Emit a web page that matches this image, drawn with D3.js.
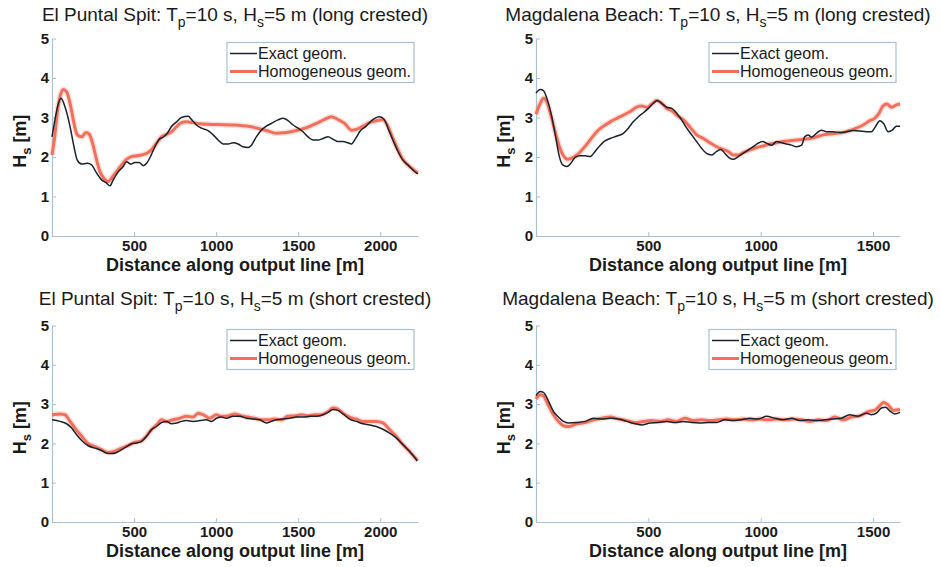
<!DOCTYPE html>
<html>
<head>
<meta charset="utf-8">
<script src="https://cdn.jsdelivr.net/npm/d3@7"></script>
<style>
  body { margin: 0; background: #fff; }
  svg { font-family: "Liberation Sans", Arial, sans-serif; }
  .axis path, .axis line { stroke: #a9c1d1; }
  .axis text { font-size: 15px; font-weight: bold; fill: #1a1a1a; }
</style>
</head>
<body>
<div id="wrapper"></div>
<script>
// values: [distance along output line (m), Hs (m)]
const puntalLongExact = [[0,2.51],[18,2.94],[39,3.36],[55,3.49],[79,3.27],[110,2.77],[134,2.26],[154,1.92],[181,1.82],[215,1.84],[241,1.80],[272,1.59],[302,1.42],[329,1.35],[353,1.27],[373,1.42],[404,1.63],[434,1.76],[454,1.88],[479,1.82],[505,1.86],[531,1.86],[556,1.78],[576,1.84],[600,2.01],[627,2.26],[653,2.45],[677,2.50],[702,2.60],[728,2.77],[759,2.89],[789,3.00],[830,3.03],[850,2.95],[880,2.81],[911,2.73],[951,2.67],[982,2.56],[1012,2.43],[1043,2.33],[1073,2.33],[1103,2.36],[1134,2.33],[1164,2.26],[1195,2.24],[1215,2.30],[1245,2.51],[1276,2.68],[1306,2.78],[1337,2.85],[1377,2.94],[1408,2.98],[1438,2.92],[1469,2.81],[1499,2.73],[1529,2.64],[1560,2.51],[1590,2.43],[1621,2.43],[1651,2.47],[1682,2.51],[1712,2.45],[1742,2.39],[1773,2.39],[1803,2.36],[1824,2.33],[1850,2.47],[1878,2.66],[1911,2.77],[1939,2.89],[1966,2.98],[1996,3.02],[2026,2.94],[2047,2.73],[2077,2.43],[2108,2.14],[2138,1.92],[2168,1.80],[2199,1.67],[2229,1.57]]
const puntalLongHomog = [[0,2.05],[14,2.43],[32,3.11],[49,3.53],[69,3.71],[89,3.65],[110,3.36],[134,2.85],[154,2.56],[181,2.51],[207,2.62],[227,2.58],[247,2.35],[272,1.92],[292,1.63],[316,1.46],[343,1.38],[369,1.50],[393,1.63],[424,1.80],[454,1.94],[485,2.01],[515,2.03],[546,2.05],[576,2.09],[606,2.18],[637,2.35],[667,2.51],[698,2.57],[728,2.64],[759,2.77],[789,2.87],[819,2.89],[860,2.87],[901,2.84],[1002,2.82],[1103,2.81],[1205,2.77],[1306,2.67],[1367,2.60],[1428,2.62],[1489,2.67],[1550,2.74],[1611,2.85],[1661,2.95],[1702,3.02],[1742,2.95],[1783,2.85],[1824,2.68],[1854,2.70],[1895,2.78],[1935,2.87],[1976,2.92],[2016,2.94],[2043,2.81],[2077,2.47],[2108,2.18],[2138,1.94],[2168,1.80],[2199,1.69],[2229,1.59]]

const magdaLongExact = [[0,3.62],[19,3.71],[33,3.68],[51,3.44],[70,3.02],[90,2.43],[104,2.01],[119,1.80],[137,1.76],[155,1.84],[174,1.99],[197,2.03],[219,2.03],[241,2.01],[263,2.14],[286,2.30],[307,2.41],[330,2.47],[360,2.53],[389,2.60],[411,2.73],[433,2.89],[456,3.02],[478,3.12],[500,3.23],[522,3.36],[540,3.43],[559,3.36],[582,3.26],[604,3.23],[626,3.11],[648,2.94],[671,2.73],[693,2.56],[715,2.39],[737,2.22],[759,2.09],[782,2.05],[804,2.14],[822,2.19],[841,2.09],[860,1.98],[878,1.94],[900,2.01],[922,2.09],[945,2.18],[967,2.26],[989,2.35],[1008,2.39],[1026,2.35],[1049,2.30],[1071,2.39],[1093,2.36],[1115,2.33],[1137,2.30],[1160,2.26],[1182,2.30],[1196,2.51],[1211,2.56],[1226,2.50],[1248,2.60],[1270,2.68],[1293,2.64],[1322,2.64],[1352,2.62],[1381,2.64],[1411,2.67],[1441,2.66],[1470,2.64],[1493,2.64],[1512,2.78],[1530,2.92],[1548,2.84],[1567,2.64],[1586,2.68],[1604,2.78],[1620,2.78]]
const magdaLongHomog = [[0,3.08],[19,3.36],[33,3.49],[48,3.40],[66,3.06],[85,2.64],[104,2.26],[122,2.03],[140,1.94],[159,1.97],[182,2.05],[211,2.22],[241,2.43],[270,2.64],[300,2.78],[330,2.89],[360,2.98],[389,3.06],[419,3.15],[448,3.26],[470,3.29],[493,3.26],[515,3.34],[537,3.43],[559,3.36],[582,3.23],[604,3.17],[626,3.06],[656,2.94],[686,2.75],[715,2.56],[745,2.47],[774,2.36],[804,2.26],[833,2.19],[856,2.14],[878,2.05],[900,2.05],[922,2.11],[952,2.18],[982,2.24],[1011,2.28],[1041,2.33],[1071,2.36],[1100,2.39],[1130,2.41],[1160,2.43],[1189,2.45],[1219,2.47],[1248,2.51],[1278,2.56],[1308,2.58],[1337,2.60],[1367,2.62],[1396,2.67],[1426,2.73],[1456,2.81],[1485,2.92],[1507,2.98],[1527,3.11],[1544,3.29],[1562,3.34],[1582,3.26],[1604,3.32],[1620,3.34]]

const puntalShortExact = [[0,2.60],[49,2.56],[89,2.50],[120,2.39],[150,2.22],[187,2.05],[221,1.94],[262,1.88],[302,1.82],[333,1.75],[363,1.74],[394,1.77],[424,1.84],[454,1.92],[485,1.99],[515,2.01],[546,2.05],[576,2.18],[606,2.35],[637,2.43],[667,2.53],[698,2.56],[728,2.50],[759,2.52],[789,2.56],[819,2.58],[860,2.56],[901,2.58],[941,2.60],[972,2.56],[1002,2.64],[1032,2.67],[1063,2.64],[1103,2.69],[1144,2.69],[1185,2.64],[1225,2.62],[1266,2.60],[1306,2.52],[1337,2.56],[1367,2.60],[1408,2.62],[1448,2.64],[1489,2.67],[1529,2.67],[1570,2.69],[1611,2.69],[1651,2.73],[1682,2.79],[1712,2.86],[1742,2.84],[1773,2.75],[1813,2.62],[1854,2.56],[1895,2.50],[1935,2.47],[1976,2.43],[2016,2.36],[2057,2.26],[2097,2.14],[2138,1.97],[2178,1.80],[2225,1.56]]
const puntalShortHomog = [[0,2.73],[49,2.75],[79,2.73],[110,2.56],[140,2.39],[181,2.18],[221,1.99],[262,1.92],[302,1.84],[343,1.77],[383,1.80],[424,1.88],[465,1.95],[505,2.03],[536,2.05],[576,2.19],[606,2.35],[637,2.47],[667,2.60],[698,2.56],[738,2.60],[779,2.64],[819,2.69],[860,2.67],[890,2.77],[921,2.73],[961,2.64],[1002,2.73],[1032,2.69],[1073,2.70],[1114,2.75],[1154,2.70],[1195,2.67],[1235,2.64],[1276,2.60],[1316,2.60],[1357,2.62],[1398,2.60],[1438,2.69],[1479,2.70],[1519,2.73],[1560,2.70],[1600,2.73],[1641,2.73],[1682,2.81],[1712,2.90],[1742,2.87],[1773,2.77],[1813,2.67],[1854,2.62],[1895,2.56],[1935,2.56],[1976,2.56],[2016,2.52],[2057,2.35],[2097,2.18],[2138,1.97],[2178,1.80],[2228,1.56]]

const magdaShortExact = [[0,3.22],[19,3.32],[33,3.30],[56,3.07],[78,2.81],[100,2.67],[122,2.56],[144,2.52],[182,2.53],[219,2.56],[256,2.64],[293,2.62],[330,2.64],[367,2.62],[404,2.56],[441,2.50],[470,2.47],[508,2.52],[544,2.53],[582,2.56],[619,2.53],[656,2.56],[693,2.53],[730,2.52],[767,2.53],[804,2.53],[841,2.60],[878,2.58],[915,2.60],[952,2.64],[989,2.62],[1026,2.69],[1063,2.64],[1100,2.60],[1137,2.64],[1174,2.58],[1211,2.60],[1248,2.58],[1285,2.60],[1322,2.62],[1359,2.64],[1396,2.73],[1433,2.69],[1470,2.77],[1493,2.73],[1515,2.77],[1537,2.90],[1556,2.92],[1574,2.83],[1596,2.75],[1620,2.79]]
const magdaShortHomog = [[0,3.13],[19,3.24],[33,3.21],[56,2.96],[78,2.73],[100,2.56],[122,2.45],[144,2.43],[182,2.50],[219,2.53],[256,2.60],[293,2.64],[330,2.67],[367,2.62],[404,2.58],[441,2.53],[478,2.56],[515,2.58],[552,2.56],[589,2.60],[626,2.56],[663,2.64],[700,2.58],[737,2.60],[774,2.58],[811,2.60],[848,2.62],[885,2.60],[922,2.62],[959,2.60],[996,2.62],[1033,2.60],[1071,2.62],[1108,2.60],[1145,2.62],[1182,2.60],[1219,2.56],[1256,2.60],[1293,2.58],[1330,2.67],[1367,2.60],[1404,2.67],[1441,2.70],[1478,2.81],[1507,2.84],[1530,2.96],[1547,3.04],[1567,2.98],[1590,2.84],[1620,2.86]]

const puntalTicks = [500, 1000, 1500, 2000]
const magdaTicks = [500, 1000, 1500]
const hsTicks = [0, 1, 2, 3, 4, 5]
const legendLabels = ["Exact geom.", "Homogeneous geom."]

const panels = [
    {site: "El Puntal Spit", kind: "long crested", exact: puntalLongExact, homog: puntalLongHomog, xMax: 2230, ticks: puntalTicks, left: 52, right: 418, top: 38.5, bottom: 236, titleY: 21},
    {site: "Magdalena Beach", kind: "long crested", exact: magdaLongExact, homog: magdaLongHomog, xMax: 1620, ticks: magdaTicks, left: 536, right: 900, top: 38.5, bottom: 236, titleY: 21},
    {site: "El Puntal Spit", kind: "short crested", exact: puntalShortExact, homog: puntalShortHomog, xMax: 2230, ticks: puntalTicks, left: 52, right: 418, top: 325.5, bottom: 522, titleY: 305},
    {site: "Magdalena Beach", kind: "short crested", exact: magdaShortExact, homog: magdaShortHomog, xMax: 1620, ticks: magdaTicks, left: 536, right: 900, top: 325.5, bottom: 522, titleY: 305},
]

const exactColor = "#18232d"
const homogColor = "#f26f5b"

const svg = d3.select("#wrapper")
    .append("svg")
    .attr("width", 940)
    .attr("height", 567)

panels.forEach(p => {
    const xScale = d3.scaleLinear().domain([0, p.xMax]).range([p.left, p.right])
    const yScale = d3.scaleLinear().domain([0, 5]).range([p.bottom, p.top])

    const g = svg.append("g")

    // title with subscripts
    const title = g.append("text")
        .attr("x", (p.left + p.right) / 2)
        .attr("y", p.titleY)
        .attr("text-anchor", "middle")
        .style("font-size", "19px")
        .style("fill", "#1a1a1a")
    title.append("tspan").text(p.site + ": T")
    title.append("tspan").attr("dy", 6).style("font-size", "14px").text("p")
    title.append("tspan").attr("dy", -6).text("=10 s, H")
    title.append("tspan").attr("dy", 6).style("font-size", "14px").text("s")
    title.append("tspan").attr("dy", -6).text("=5 m (" + p.kind + ")")

    // axes, ticks pointing inward like matlab
    g.append("g")
        .attr("class", "axis")
        .attr("transform", `translate(0,${p.bottom})`)
        .call(d3.axisBottom(xScale).tickValues(p.ticks).tickFormat(d3.format("d"))
            .tickSizeInner(-4).tickSizeOuter(0).tickPadding(4))
    g.append("g")
        .attr("class", "axis")
        .attr("transform", `translate(${p.left},0)`)
        .call(d3.axisLeft(yScale).tickValues(hsTicks).tickFormat(d3.format("d"))
            .tickSizeInner(-4).tickSizeOuter(0).tickPadding(3))
    g.selectAll(".axis .domain").attr("stroke-width", 1.2)

    g.append("text")
        .attr("x", (p.left + p.right) / 2)
        .attr("y", p.bottom + 35)
        .attr("text-anchor", "middle")
        .style("font-size", "18px")
        .style("font-weight", "bold")
        .style("fill", "#1a1a1a")
        .text("Distance along output line [m]")

    const yLabel = g.append("text")
        .attr("transform", `translate(${p.left - 26},${(p.top + p.bottom) / 2 + 4}) rotate(-90)`)
        .attr("text-anchor", "middle")
        .style("font-size", "18px")
        .style("font-weight", "bold")
        .style("fill", "#1a1a1a")
    yLabel.append("tspan").text("H")
    yLabel.append("tspan").attr("dy", 5).style("font-size", "13px").text("s")
    yLabel.append("tspan").attr("dy", -5).text(" [m]")

    // lines
    const lineGenerator = d3.line()
        .x(d => xScale(d[0]))
        .y(d => yScale(d[1]))
        .curve(d3.curveMonotoneX)

    g.append("path")
        .attr("d", lineGenerator(p.homog))
        .attr("fill", "none")
        .attr("stroke", homogColor)
        .attr("stroke-opacity", 0.2)
        .attr("stroke-width", 6)
    g.append("path")
        .attr("d", lineGenerator(p.homog))
        .attr("fill", "none")
        .attr("stroke", homogColor)
        .attr("stroke-width", 3)
    g.append("path")
        .attr("d", lineGenerator(p.exact))
        .attr("fill", "none")
        .attr("stroke", exactColor)
        .attr("stroke-width", 1.5)

    // legend
    const boxRight = p.right - 4
    const textStart = boxRight - 156
    const legendTop = p.top + 4
    const legend = g.append("g")
    legend.append("rect")
        .attr("x", textStart - 31)
        .attr("y", legendTop)
        .attr("width", boxRight - textStart + 31)
        .attr("height", 40)
        .attr("fill", "#fff")
        .attr("stroke", "#a9c1d1")
        .attr("stroke-width", 1.2)
    legendLabels.forEach((label, i) => {
        const cy = legendTop + 11 + i * 18
        legend.append("line")
            .attr("x1", textStart - 28)
            .attr("x2", textStart - 1)
            .attr("y1", cy)
            .attr("y2", cy)
            .attr("stroke", i === 0 ? exactColor : homogColor)
            .attr("stroke-width", i === 0 ? 1.5 : 3)
        legend.append("text")
            .attr("x", textStart)
            .attr("y", cy + 5.5)
            .style("font-size", "16px")
            .style("fill", "#1a1a1a")
            .text(label)
    })
})
</script>
</body>
</html>
